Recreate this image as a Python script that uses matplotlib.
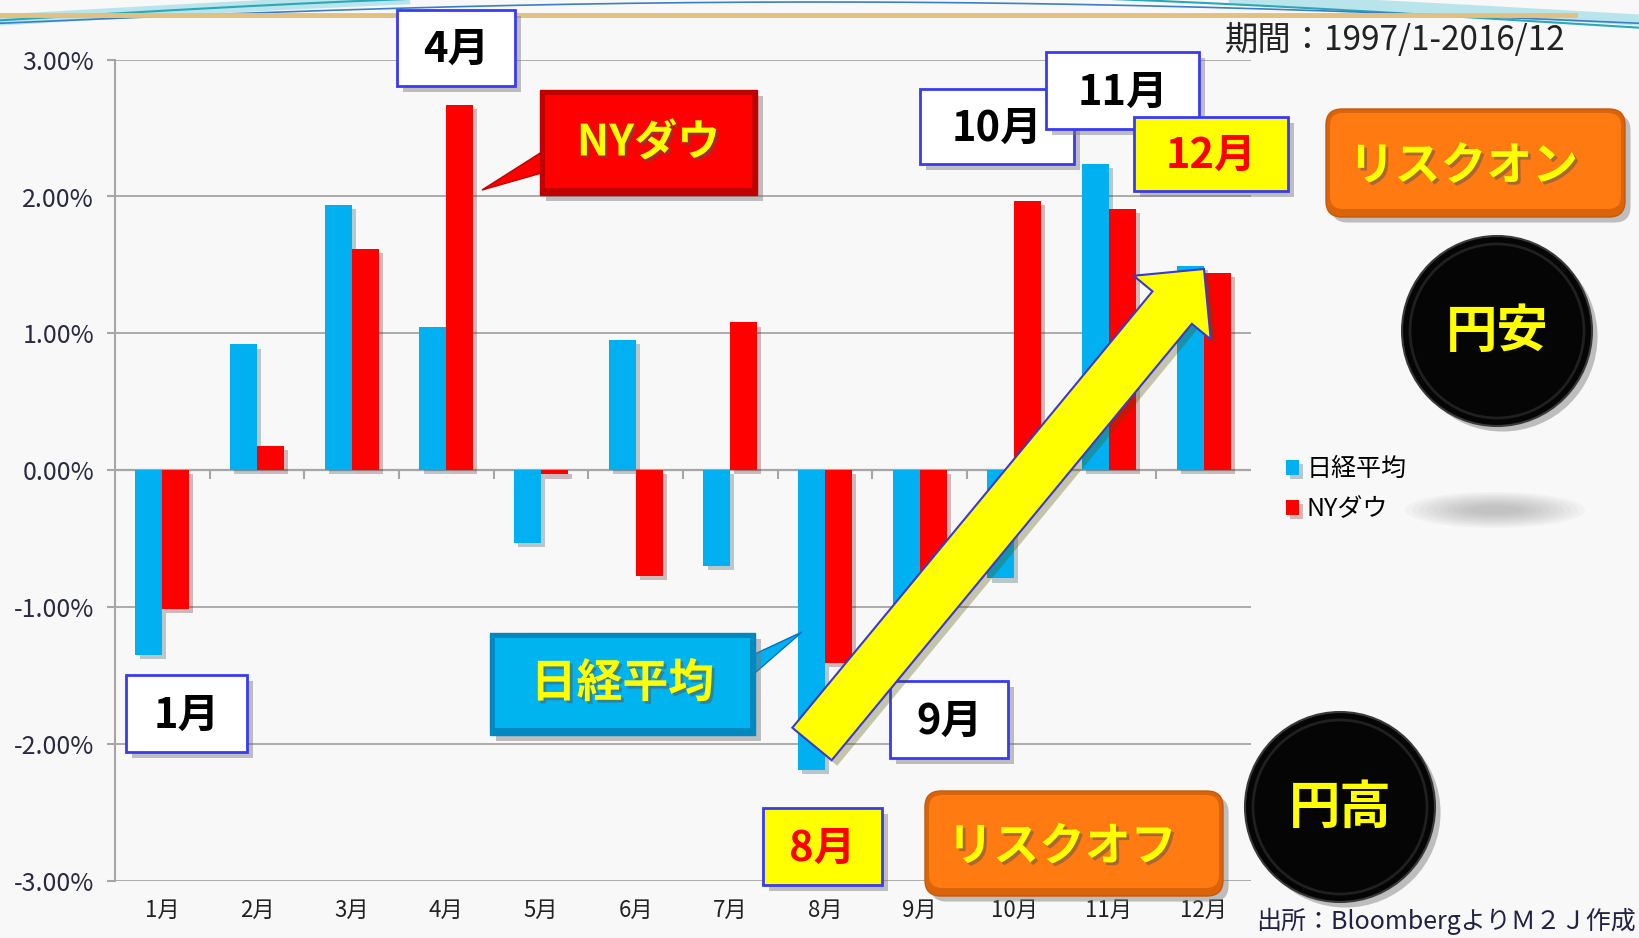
import numpy as np
import matplotlib
matplotlib.use("Agg")
import matplotlib.pyplot as plt
import matplotlib.patheffects as pe
from matplotlib.patches import FancyBboxPatch, Polygon, Circle, Ellipse, Rectangle

plt.rcParams['font.family'] = ['Noto Sans CJK JP', 'DejaVu Sans']

# data (monthly average returns, %)
months = ['1月', '2月', '3月', '4月', '5月', '6月', '7月', '8月', '9月', '10月', '11月', '12月']
nikkei = [-1.35, 0.92, 1.94, 1.05, -0.53, 0.95, -0.70, -2.19, -1.15, -0.79, 2.24, 1.49]
nydow = [-1.01, 0.18, 1.62, 2.67, -0.03, -0.77, 1.08, -1.41, -0.95, 1.97, 1.91, 1.44]
series_names = ['日経平均', 'NYダウ']

W, H = 1639, 938
BG = '#f8f8f8'
GRID = '#a6a6a6'
CYAN = '#00b0f0'
RED = '#ff0000'

fig = plt.figure(figsize=(W / 100, H / 100), dpi=100, facecolor=BG)

# main chart
ax = fig.add_axes([115 / W, (H - 881) / H, 1136 / W, 821.4 / H])
ax.set_facecolor(BG)
x = np.arange(len(months))
w = 0.285
shadow = [pe.SimplePatchShadow(offset=(3, -3), alpha=0.25), pe.Normal()]
b1 = ax.bar(x - w / 2, nikkei, w, color=CYAN, label=series_names[0], zorder=3)
b2 = ax.bar(x + w / 2, nydow, w, color=RED, label=series_names[1], zorder=3)
for b in list(b1) + list(b2):
    b.set_path_effects(shadow)

ax.set_xlim(-0.5, len(months) - 0.5)
ax.set_ylim(-3, 3)
ax.set_yticks(np.arange(-3, 3.01, 1))
ax.set_yticklabels(['{:.2f}%'.format(v) for v in np.arange(-3, 3.01, 1)])
ax.yaxis.grid(True, color=GRID, lw=1.3)
ax.set_axisbelow(True)
for s in ['top', 'right', 'bottom']:
    ax.spines[s].set_visible(False)
ax.spines['left'].set_color(GRID)
ax.spines['left'].set_linewidth(1.5)
ax.axhline(0, color=GRID, lw=1.6, zorder=2)
ax.vlines(np.arange(0.5, len(months) - 1, 1), -0.06, 0, color=GRID, lw=1.5, zorder=2)
ax.set_xticks(x, months)
ax.tick_params(axis='x', length=0, pad=13, labelsize=16, labelcolor='#222222')
ax.tick_params(axis='y', length=6, color=GRID, width=1.5, pad=9, labelsize=18, labelcolor='#2a2a40')

fig.legend(handles=[b1, b2], loc='center left', bbox_to_anchor=(1263 / W, 1 - 489 / H),
           frameon=False, fontsize=18, handlelength=0.55, handleheight=0.55,
           handletextpad=0.3, labelspacing=0.55)

# overlay in pixel coordinates (y down)
ov = fig.add_axes([0, 0, 1, 1], zorder=5)
ov.set_xlim(0, W)
ov.set_ylim(H, 0)
ov.axis('off')
ov.patch.set_alpha(0)

# decorative waves at the top
xs = np.linspace(0, W, 400)
ov.plot(xs, 20 - 30 * np.sin(np.pi * xs / W), color='#5cc8dc', lw=8, alpha=0.4)
ov.plot(xs, 24 - 32 * np.sin(np.pi * (xs + 60) / W), color='#2aa8b8', lw=1.5)
ov.plot(xs, 30 - 28 * np.sin(np.pi * (xs + 150) / (W + 300)), color='#3a7fc8', lw=1.2)
ov.plot([0, 1575], [15, 15], color='#e3c07f', lw=3.5)

# soft grey blob near legend
for i in range(10):
    ov.add_patch(Ellipse((1495, 510), 180 - 14 * i, 36 - 3 * i, color='#808080', alpha=0.05, lw=0))

box_shadow = [pe.SimplePatchShadow(offset=(4, -4), shadow_rgbFace='#777777', alpha=0.45), pe.Normal()]
txt_shadow = [pe.withSimplePatchShadow(offset=(2, -2), shadow_rgbFace='#555555', alpha=0.5)]


def label_box(x0, y0, x1, y1, text, fc='white', ec='#3a3af5', tc='black', size=30, z=10):
    p = FancyBboxPatch((x0, y0), x1 - x0, y1 - y0, boxstyle='square,pad=0', fc=fc, ec=ec, lw=2,
                       zorder=z, path_effects=box_shadow)
    ov.add_patch(p)
    ov.text((x0 + x1) / 2, (y0 + y1) / 2 + 2, text, ha='center', va='center', fontsize=size,
            fontweight='bold', color=tc, zorder=z + 0.5)


def bevel_box(x0, y0, x1, y1, text, outer, inner, size=31, z=10):
    ov.add_patch(FancyBboxPatch((x0, y0), x1 - x0, y1 - y0, boxstyle='square,pad=0', fc=outer,
                                ec=outer, lw=1, zorder=z, path_effects=box_shadow))
    ov.add_patch(Rectangle((x0 + 5, y0 + 5), x1 - x0 - 10, y1 - y0 - 12, fc=inner, lw=0, zorder=z + 0.1))
    ov.text((x0 + x1) / 2, (y0 + y1) / 2, text, ha='center', va='center', fontsize=size,
            fontweight='bold', color='#ffff00', zorder=z + 0.5, path_effects=txt_shadow)


def round_box(x0, y0, x1, y1, text, size=33, z=10):
    ov.add_patch(FancyBboxPatch((x0, y0), x1 - x0, y1 - y0, boxstyle='round,pad=0,rounding_size=16',
                                fc='#d9640a', ec='#c9580a', lw=1, zorder=z, path_effects=box_shadow))
    ov.add_patch(FancyBboxPatch((x0 + 4, y0 + 4), x1 - x0 - 8, y1 - y0 - 12,
                                boxstyle='round,pad=0,rounding_size=13', fc='#ff7a10', lw=0, zorder=z + 0.1))
    ov.text((x0 + x1) / 2 - 12, (y0 + y1) / 2 + 4, text, ha='center', va='center', fontsize=size,
            fontweight='bold', color='#ffff00', zorder=z + 0.5, path_effects=txt_shadow)


def yen_circle(cx, cy, r, text, z=10):
    ov.add_patch(Circle((cx, cy), r, fc='#050505', ec='#3a3a3a', lw=1.5, zorder=z, path_effects=box_shadow))
    ov.add_patch(Circle((cx, cy), r - 8, fc='none', ec='#202020', lw=2, zorder=z + 0.1))
    ov.text(cx, cy, text, ha='center', va='center', fontsize=37, fontweight='bold',
            color='#ffff00', zorder=z + 0.5)


# callout pointers
ov.add_patch(Polygon([(482, 190), (545, 150), (552, 170)], closed=True, fc=RED, ec='#c00000', lw=1, zorder=9))
ov.add_patch(Polygon([(802, 632), (742, 660), (756, 672)], closed=True, fc=CYAN, ec='#0070c0', lw=1, zorder=9))

bevel_box(540, 90, 757, 195, 'NYダウ', '#c00000', '#ff0000')
bevel_box(490, 633, 755, 735, '日経平均', '#0088c0', '#00b4f0', size=33)

label_box(397, 10, 515, 86, '4月')
label_box(920, 89, 1074, 164, '10月')
label_box(1046, 52, 1199, 129, '11月', z=11)
label_box(1134, 117, 1288, 191, '12月', fc='#ffff00', tc=RED, z=12)
label_box(126, 675, 247, 752, '1月')
label_box(890, 681, 1008, 758, '9月')
label_box(763, 808, 882, 885, '8月', fc='#ffff00', tc=RED)

round_box(1326, 109, 1625, 217, 'リスクオン')
round_box(925, 791, 1223, 896, 'リスクオフ')
yen_circle(1497, 331, 95, '円安')
yen_circle(1340, 807, 95, '円高')

# big yellow arrow from August low to December
T = np.array([812.0, 744.0])
P = np.array([1204.0, 269.0])
u = (P - T) / np.linalg.norm(P - T)
n = np.array([-u[1], u[0]])
hl, hw, tw = 50, 100, 51
B = P - u * hl
pts = [T + n * tw / 2, B + n * tw / 2, B + n * hw / 2, P, B - n * hw / 2, B - n * tw / 2, T - n * tw / 2]
ov.add_patch(Polygon(pts, closed=True, fc='#ffff00', ec='#3a3ad0', lw=1.5, zorder=13,
                     path_effects=[pe.SimplePatchShadow(offset=(4, -4), alpha=0.3), pe.Normal()]))

ov.text(1565, 40, '期間：1997/1-2016/12', ha='right', va='center', fontsize=24, color='#222222')
ov.text(1636, 921, '出所：BloombergよりＭ２Ｊ作成', ha='right', va='center', fontsize=18, color='#222244')

fig.savefig('out.png', dpi=100, facecolor=BG)
